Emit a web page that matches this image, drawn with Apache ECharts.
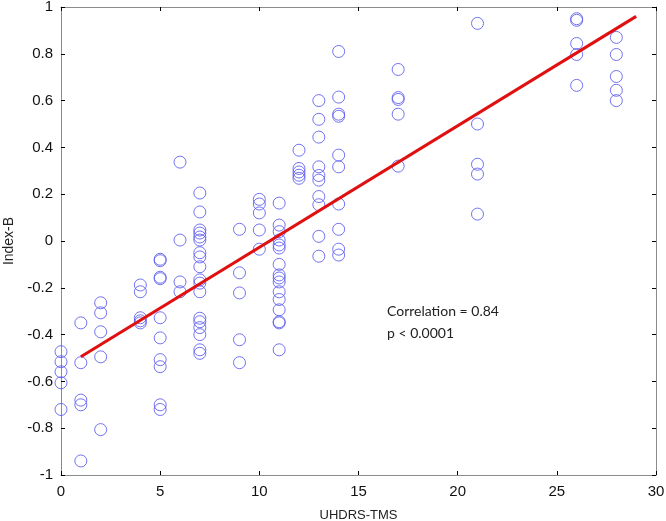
<!DOCTYPE html>
<html><head><meta charset="utf-8">
<script src="https://cdn.jsdelivr.net/npm/echarts@6/dist/echarts.min.js"></script>
<style>html,body{margin:0;padding:0;background:#fff}#c{width:666px;height:521px}</style>
</head><body><div id="c"></div>
<script>
// UHDRS-TMS score (x) and Index-B (y) for each subject
const xVals = [
  0,0,0,0,0,
  1,1,1,1,1,
  2,2,2,2,2,
  4,4,4,4,4,
  5,5,5,5,5,5,5,5,5,5,
  6,6,6,6,
  7,7,7,7,7,7,7,7,7,7,7,7,7,7,7,7,7,7,
  9,9,9,9,9,
  10,10,10,10,10,
  11,11,11,11,11,11,11,11,11,11,11,11,11,11,11,11,
  12,12,12,12,12,
  13,13,13,13,13,13,13,13,13,13,
  14,14,14,14,14,14,14,14,14,14,
  17,17,17,17,17,
  21,21,21,21,21,
  26,26,26,26,26,
  28,28,28,28,28
];
const yVals = [
  -0.473,-0.516,-0.559,-0.606,-0.72,
  -0.35,-0.52,-0.68,-0.70,-0.94,
  -0.264,-0.307,-0.388,-0.495,-0.806,
  -0.188,-0.217,-0.328,-0.341,-0.35,
  -0.078,-0.084,-0.155,-0.161,-0.328,-0.414,-0.507,-0.537,-0.70,-0.72,
  0.337,0.004,-0.175,-0.217,
  0.205,0.124,0.047,0.034,0.017,0.004,-0.05,-0.068,-0.11,-0.166,-0.18,-0.217,-0.33,-0.345,-0.37,-0.40,-0.465,-0.48,
  0.05,-0.136,-0.222,-0.422,-0.52,
  0.178,0.158,0.12,0.047,-0.035,
  0.162,0.068,0.04,0.004,-0.017,-0.03,-0.10,-0.145,-0.158,-0.175,-0.217,-0.25,-0.294,-0.345,-0.35,-0.465,
  0.388,0.31,0.295,0.281,0.268,
  0.60,0.52,0.444,0.317,0.28,0.26,0.19,0.155,0.02,-0.065,
  0.81,0.615,0.542,0.533,0.367,0.317,0.158,0.05,-0.035,-0.06,
  0.733,0.613,0.605,0.542,0.32,
  0.93,0.50,0.328,0.286,0.115,
  0.95,0.943,0.844,0.797,0.665,
  0.87,0.797,0.703,0.644,0.60
];
// Regression line end points [x, y]
const fitLine = [[1, -0.495], [29, 0.96]];
const corrText = ['Correlation = 0.84', 'p < 0.0001'];

const points = xVals.map((x, i) => [x, yVals[i]]);

const chart = echarts.init(document.getElementById('c'), null, {renderer: 'canvas'});
const axisLine = {show: true, onZero: false, lineStyle: {color: '#8c8c8c', width: 1}};
const tickIn = {show: true, inside: true, length: 4, lineStyle: {color: '#000', width: 1}};
chart.setOption({
  animation: false,
  grid: {left: 61, right: 10, top: 7, bottom: 46, containLabel: false, outerBoundsMode: 'none'},
  xAxis: [{
    type: 'value', min: 0, max: 30, interval: 5,
    name: 'UHDRS-TMS', nameLocation: 'middle', nameGap: 34,
    nameTextStyle: {fontFamily: 'Arial', fontSize: 13, color: '#222'},
    axisLine: axisLine, axisTick: tickIn, splitLine: {show: false},
    axisLabel: {fontFamily: 'Arial', fontSize: 15, color: '#111', margin: 9}
  }, {
    type: 'value', min: 0, max: 30, interval: 5, position: 'top',
    axisLine: axisLine, axisTick: tickIn, splitLine: {show: false}, axisLabel: {show: false}
  }],
  yAxis: [{
    type: 'value', min: -1, max: 1, interval: 0.2,
    name: 'Index-B', nameLocation: 'middle', nameGap: 41, nameRotate: 90,
    nameTextStyle: {fontFamily: 'Arial', fontSize: 14, color: '#222'},
    axisLine: axisLine, axisTick: tickIn, splitLine: {show: false},
    axisLabel: {fontFamily: 'Arial', fontSize: 15, color: '#111', margin: 8,
      formatter: v => String(Math.round(v * 10) / 10)}
  }, {
    type: 'value', min: -1, max: 1, interval: 0.2, position: 'right',
    axisLine: axisLine, axisTick: tickIn, splitLine: {show: false}, axisLabel: {show: false}
  }],
  series: [{
    type: 'scatter', data: points, symbol: 'circle', symbolSize: 12,
    itemStyle: {color: 'rgba(0,0,0,0)', borderColor: '#5a5aee', borderWidth: 1, opacity: 0.85}
  }, {
    type: 'line', data: fitLine, symbol: 'none', z: 5,
    lineStyle: {color: '#e01010', width: 3}
  }],
  graphic: [{
    type: 'text', left: 387, top: 300,
    style: {text: corrText.join('\n'), fontFamily: 'Lato', fontSize: 14, lineHeight: 22, fill: '#222'}
  }]
});
</script></body></html>
